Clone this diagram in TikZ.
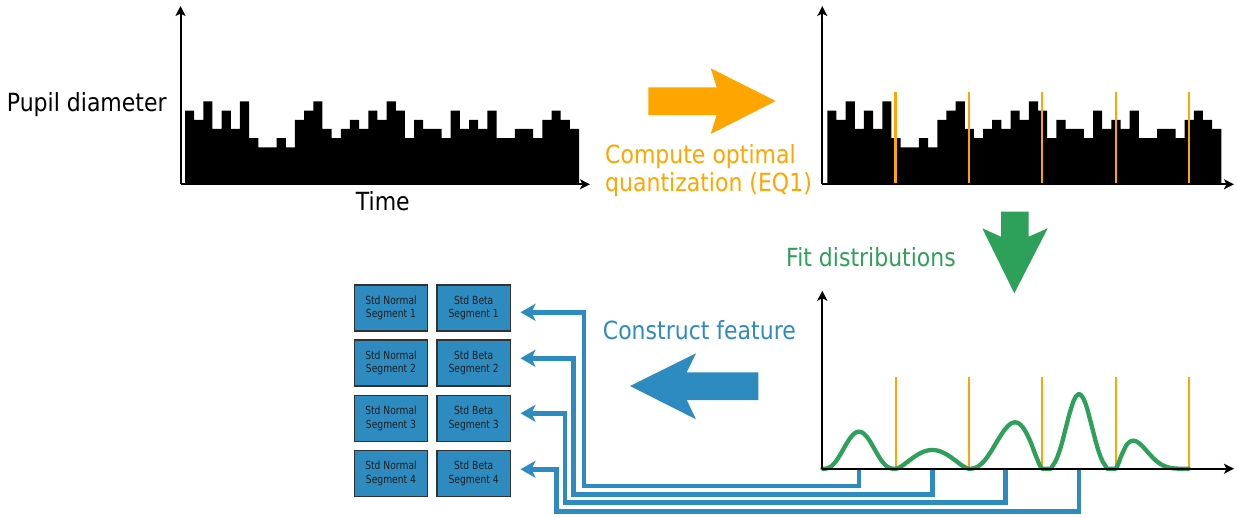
\documentclass[tikz,border=0pt]{standalone}
\usepackage{fontspec}
\setmainfont{DejaVu Sans}[FakeStretch=0.88]
\newfontfamily\boxfamily{DejaVu Sans}[FakeStretch=0.82]
\usetikzlibrary{arrows.meta,calc}
\definecolor{qorange}{RGB}{255,165,0}
\definecolor{qgreen}{RGB}{45,160,90}
\definecolor{qblue}{RGB}{46,139,192}
\definecolor{qedge}{RGB}{50,50,50}
\newcommand\bigtxt{\fontsize{25}{28.4}\selectfont}
\newcommand\smalltxt{\boxfamily\fontsize{11.2}{13.3}\selectfont}
\tikzset{
  axis/.style={line width=2pt,-{Stealth[length=10pt,width=10pt,inset=2.5pt]}},
  cut/.style={qorange,line width=2.2pt},
  gcurve/.style={qgreen,line width=4.3pt,line cap=round,line join=round},
  conn/.style={qblue,line width=4.5pt,-{Stealth[length=15pt,width=17pt,inset=4pt]}},
  segbox/.style={draw=qedge,line width=1.2pt,fill=qblue,minimum width=73.4pt,minimum height=46pt,inner sep=0pt,align=center,font=\smalltxt,text=black!88},
  lbl/.style={anchor=base west,inner sep=0pt,font=\bigtxt,align=left},
  declare function={bb(\t,\a,\b)=(\t^\a)*((1-\t)^\b)/(((\a/(\a+\b))^\a)*((\b/(\a+\b))^\b));}
}
\newcommand\histfill[1]{%
  \fill (#1,184) \foreach \h [count=\i] in {8,7,9,6,8,6,9,5,4,4,5,4,7,8,9,6,5,6,7,6,8,7,9,8,5,7,6,6,5,8,6,7,6,8,5,5,6,6,5,7,8,7,6}
    { -- ({#1+(\i-1)*9.163},{184-\h*9.17}) -- ({#1+\i*9.163},{184-\h*9.17}) } -- ({#1+43*9.163},184) -- cycle;}
\begin{document}
\begin{tikzpicture}[x=1pt,y=-1pt]
\useasboundingbox (0,0) rectangle (1237,517);
% ---------- top-left histogram ----------
\histfill{185}
\coordinate (o1) at (180.5,184.3);
\coordinate (o1y) at (180.5,6);
\coordinate (o1x) at (590,184.3);
\draw[axis] (o1) -- (o1y);
\draw[axis] (o1) -- (o1x);
\node[lbl] (ylab) at (6.7,111) {Pupil diameter};
\node[lbl] (xlab) at (355.7,210.7) {Time};
% ---------- top-right histogram ----------
\histfill{827.3}
\foreach \x in {895.5,969,1042.3,1115.7,1189}{\draw[cut] (\x,92.3) -- (\x,184);}
\coordinate (o2) at (822.3,184.3);
\coordinate (o2y) at (822.3,6);
\coordinate (o2x) at (1234,184.3);
\draw[axis] (o2) -- (o2y);
\draw[axis] (o2) -- (o2x);
% ---------- orange arrow ----------
\fill[qorange] (648.3,87.3) -- (716.7,87.3) -- (710.7,68.3) -- (775.7,101) -- (710.7,134) -- (716.7,115) -- (648.3,115) -- cycle;
\node[lbl,text=qorange] (quant) at (605,191.7) {Compute optimal\\quantization (EQ1)};
% ---------- green arrow ----------
\fill[qgreen] (1001,211.7) -- (1028.7,211.7) -- (1028.7,236.7) -- (1047.7,228.3) -- (1014.3,293.3) -- (982.3,228.3) -- (1001,236.7) -- cycle;
\node[lbl,text=qgreen] (fit) at (786,266) {Fit distributions};
% ---------- bottom-right distributions ----------
\foreach \x in {895.7,969,1042.3,1115.7,1189}{\draw[cut] (\x,377.3) -- (\x,468.7);}
\draw[gcurve]
  plot[domain=0.002:0.998,samples=50,smooth,variable=\t] ({822.3+73.35*\t},{468.7-37*bb(\t,3.2,3.2)})
  -- plot[domain=0.002:0.998,samples=50,smooth,variable=\t] ({895.65+73.35*\t},{468.7-18.7*bb(\t,1.65,1.65)})
  -- plot[domain=0.002:0.998,samples=50,smooth,variable=\t] ({969+73.35*\t},{468.7-46.4*bb(\t,2.7,1.6)})
  -- plot[domain=0.002:0.998,samples=60,smooth,variable=\t] ({1042.35+73.35*\t},{468.7-74.4*bb(\t,4.3,4.3)})
  -- plot[domain=0.002:0.998,samples=50,smooth,variable=\t] ({1115.7+73.35*\t},{468.7-28*bb(\t,1.5,4.75)});
% ---------- connectors ----------
\coordinate (s1) at (859,470);
\coordinate (s2) at (932.3,470);
\coordinate (s3) at (1005.7,470);
\coordinate (s4) at (1079,470);
\coordinate (t1) at (520.5,312.3);
\coordinate (t2) at (520.5,358.3);
\coordinate (t3) at (520.5,413.3);
\coordinate (t4) at (520.5,469.3);
\draw[conn] (s1) -- ++(0,16) -| ([xshift=63.5]t1) -- (t1);
\draw[conn] (s2) -- ++(0,24.3) -| ([xshift=52.8]t2) -- (t2);
\draw[conn] (s3) -- ++(0,32.7) -| ([xshift=44.5]t3) -- (t3);
\draw[conn] (s4) -- ++(0,41.7) -| ([xshift=36.2]t4) -- (t4);
\coordinate (o3) at (822.3,468.7);
\coordinate (o3y) at (822.3,290.7);
\coordinate (o3x) at (1234,468.7);
\draw[axis] (o3) -- (o3y);
\draw[axis] (o3) -- (o3x);
% ---------- blue arrow ----------
\fill[qblue] (758.3,372.3) -- (686.7,372.3) -- (696,353.3) -- (630,386) -- (696,419.3) -- (686.7,400) -- (758.3,400) -- cycle;
\node[lbl,text=qblue] (feat) at (602.7,339.3) {Construct feature};
% ---------- feature boxes ----------
\node[segbox] (n1) at (391,308) {Std Normal\\Segment 1};
\node[segbox] (b1) at (473.7,308) {Std Beta\\Segment 1};
\node[segbox] (n2) at (391,363) {Std Normal\\Segment 2};
\node[segbox] (b2) at (473.7,363) {Std Beta\\Segment 2};
\node[segbox] (n3) at (391,418.3) {Std Normal\\Segment 3};
\node[segbox] (b3) at (473.7,418.3) {Std Beta\\Segment 3};
\node[segbox] (n4) at (391,473.3) {Std Normal\\Segment 4};
\node[segbox] (b4) at (473.7,473.3) {Std Beta\\Segment 4};
\end{tikzpicture}
\end{document}
